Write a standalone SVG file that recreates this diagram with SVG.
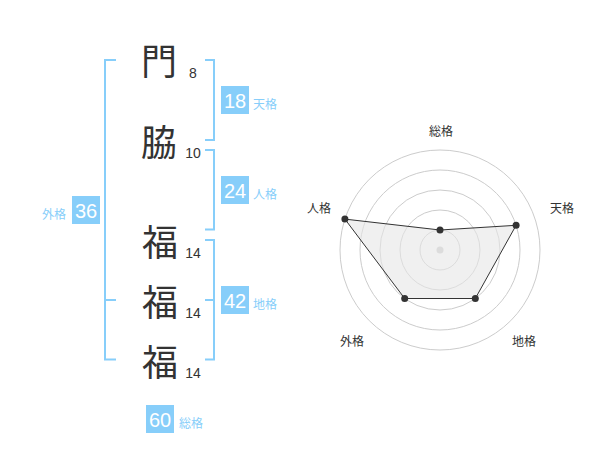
<svg xmlns="http://www.w3.org/2000/svg" width="600" height="470" viewBox="0 0 600 470">
<style>
.bk{fill:none;stroke:#87cefa;stroke-width:2}
.box{fill:#87cefa}
.bn{font-family:"Liberation Sans",Arial,sans-serif;font-size:20px;fill:#fff;text-anchor:middle}
.bl{font-family:"Noto Sans CJK JP","Noto Sans CJK SC",sans-serif;font-size:12px;fill:#87cefa}
.kj{font-family:"Noto Sans CJK JP","Noto Sans CJK SC",sans-serif;font-size:36px;fill:#333;text-anchor:middle}
.st{font-family:"Liberation Sans",Arial,sans-serif;font-size:14px;fill:#333;text-anchor:middle}
.rl{font-family:"Noto Sans CJK JP","Noto Sans CJK SC",sans-serif;font-size:12px;fill:#333;text-anchor:middle}
.ring{fill:none;stroke:#ccc;stroke-width:1}
.pt{fill:#333}
</style>
<rect width="600" height="470" fill="#fff"/>
<g id="connectors">
<path class="bk" d="M116,60 H105 V359.5 H116 M105,300 H116"/>
<path class="bk" d="M205,60 H214 V140 H205"/>
<path class="bk" d="M205,150 H214 V229.5 H205"/>
<path class="bk" d="M205,240 H214 V359.5 H205 M214,300 H205"/>
</g>
<g id="char1"><text class="kj" x="159" y="75">門</text><text class="st" x="193" y="78">8</text></g>
<g id="char2"><text class="kj" x="159" y="156">脇</text><text class="st" x="193" y="158">10</text></g>
<g id="char3"><text class="kj" x="160" y="256">福</text><text class="st" x="193" y="257.5">14</text></g>
<g id="char4"><text class="kj" x="160" y="316">福</text><text class="st" x="193" y="317.5">14</text></g>
<g id="char5"><text class="kj" x="160" y="376">福</text><text class="st" x="193" y="377.5">14</text></g>
<g id="tenkaku"><rect class="box" x="221" y="86" width="28" height="28"/><text class="bn" x="235" y="107.5">18</text><text class="bl" x="253" y="108.5">天格</text></g>
<g id="jinkaku"><rect class="box" x="221" y="176" width="28" height="28"/><text class="bn" x="235" y="197.5">24</text><text class="bl" x="253" y="198.5">人格</text></g>
<g id="chikaku"><rect class="box" x="221" y="286" width="28" height="28"/><text class="bn" x="235" y="307.5">42</text><text class="bl" x="253" y="308.5">地格</text></g>
<g id="gaikaku"><rect class="box" x="72" y="196" width="28" height="28"/><text class="bn" x="86" y="217.5">36</text><text class="bl" x="66" y="218.5" text-anchor="end">外格</text></g>
<g id="soukaku"><rect class="box" x="146" y="405" width="28" height="28"/><text class="bn" x="160" y="426.5">60</text><text class="bl" x="179" y="427.5">総格</text></g>
<g id="radar">
<circle class="ring" cx="440" cy="250" r="20"/>
<circle class="ring" cx="440" cy="250" r="40"/>
<circle class="ring" cx="440" cy="250" r="60"/>
<circle class="ring" cx="440" cy="250" r="80"/>
<circle class="ring" cx="440" cy="250" r="100"/>
<circle cx="440" cy="250" r="3.5" fill="#ccc"/>
<polygon points="440,230 516.1,225.3 475.3,298.5 404.7,298.5 344.9,219.1" fill="#e6e6e6" fill-opacity="0.6" stroke="#333" stroke-width="1"/>
<circle class="pt" cx="440" cy="230" r="3.5"/>
<circle class="pt" cx="516.1" cy="225.3" r="3.5"/>
<circle class="pt" cx="475.3" cy="298.5" r="3.5"/>
<circle class="pt" cx="404.7" cy="298.5" r="3.5"/>
<circle class="pt" cx="344.9" cy="219.1" r="3.5"/>
<text class="rl" x="441" y="136">総格</text>
<text class="rl" x="562" y="213">天格</text>
<text class="rl" x="524" y="346">地格</text>
<text class="rl" x="352" y="346">外格</text>
<text class="rl" x="319" y="213">人格</text>
</g>
</svg>
